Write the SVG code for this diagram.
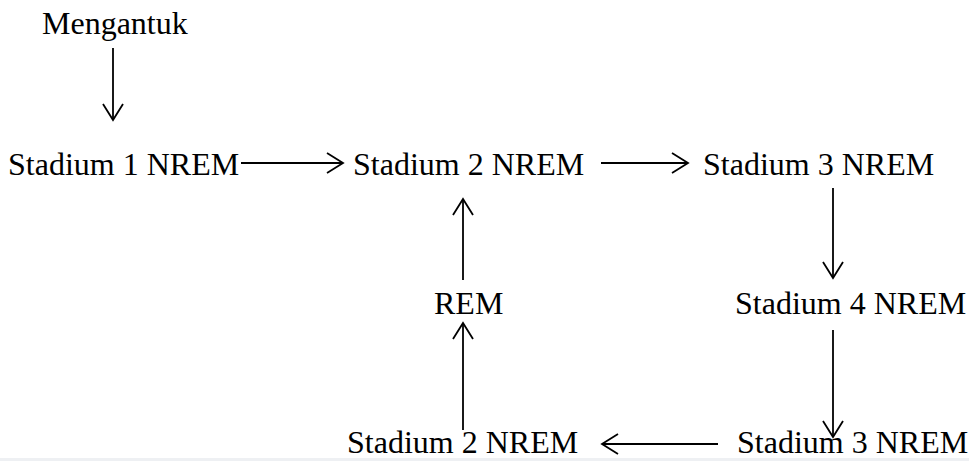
<svg xmlns="http://www.w3.org/2000/svg" width="969" height="461" viewBox="0 0 969 461">
  <style>
    .lbl { font-family: "Liberation Serif", "Times New Roman", serif; font-size: 32px; fill: #000; }
    .conn { stroke: #000; stroke-width: 1.8; fill: none; marker-end: url(#head); }
  </style>
  <defs>
    <marker id="head" markerUnits="userSpaceOnUse" markerWidth="40" markerHeight="40" viewBox="-20 -20 40 40" refX="0" refY="0" orient="auto" overflow="visible">
      <path d="M-16,-10 L0,0 L-16,10" fill="none" stroke="#000" stroke-width="1.8" stroke-linejoin="miter"/>
    </marker>
  </defs>
  <rect x="0" y="0" width="969" height="461" fill="#fff"/>
  <rect x="0" y="458" width="969" height="3" fill="#eef0f3"/>

  <g id="mengantuk"><text class="lbl" x="42" y="34">Mengantuk</text></g>
  <g id="stadium1"><text class="lbl" x="8" y="175">Stadium 1 NREM</text></g>
  <g id="stadium2-top"><text class="lbl" x="353" y="175">Stadium 2 NREM</text></g>
  <g id="stadium3-top"><text class="lbl" x="703" y="175">Stadium 3 NREM</text></g>
  <g id="stadium4"><text class="lbl" x="735" y="314">Stadium 4 NREM</text></g>
  <g id="rem"><text class="lbl" x="434" y="314">REM</text></g>
  <g id="stadium3-bottom"><text class="lbl" x="737" y="453">Stadium 3 NREM</text></g>
  <g id="stadium2-bottom"><text class="lbl" x="347" y="453">Stadium 2 NREM</text></g>

  <g id="connectors">
    <line class="conn" x1="113" y1="48" x2="113" y2="120"/>
    <line class="conn" x1="241" y1="163" x2="343" y2="163"/>
    <line class="conn" x1="601" y1="163" x2="688" y2="163"/>
    <line class="conn" x1="833" y1="188" x2="833" y2="278"/>
    <line class="conn" x1="833" y1="330" x2="833" y2="437"/>
    <line class="conn" x1="718" y1="444" x2="602" y2="444"/>
    <line class="conn" x1="463" y1="430" x2="463" y2="323"/>
    <line class="conn" x1="463" y1="280" x2="463" y2="199"/>
  </g>
</svg>
